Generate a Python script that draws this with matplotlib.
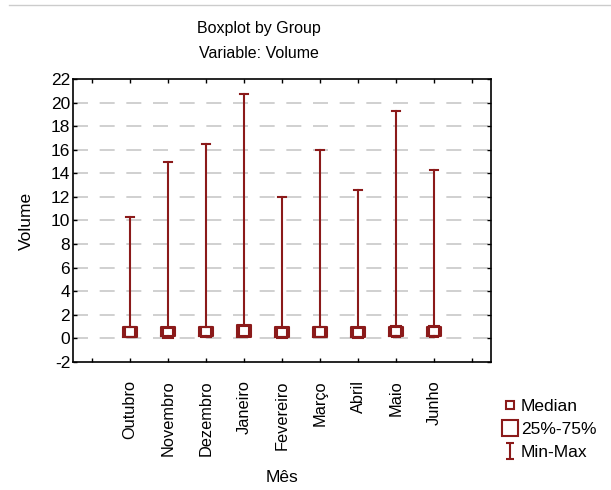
import matplotlib
matplotlib.use("Agg")
import matplotlib.pyplot as plt
from matplotlib.lines import Line2D
from matplotlib.path import Path

plt.rcParams['font.family'] = ['Liberation Sans', 'DejaVu Sans']
plt.rcParams['axes.unicode_minus'] = False

# ---------------------------
# Data
# ---------------------------
meses = ["Outubro", "Novembro", "Dezembro", "Janeiro", "Fevereiro",
         "Março", "Abril", "Maio", "Junho"]
mins = [0.1, 0.1, 0.1, 0.1, 0.1, 0.1, 0.1, 0.1, 0.1]
q1 = [0.15, 0.2, 0.2, 0.15, 0.1, 0.15, 0.15, 0.2, 0.2]
medians = [0.55, 0.5, 0.55, 0.6, 0.5, 0.55, 0.5, 0.6, 0.6]
q3 = [1.0, 0.95, 0.95, 1.1, 0.95, 1.0, 0.95, 1.0, 1.0]
maxs = [10.3, 15.0, 16.5, 20.7, 12.0, 16.0, 12.6, 19.3, 14.3]

red = "#8b1a1a"
positions = list(range(1, len(meses) + 1))

stats = []
for i in range(len(meses)):
    stats.append(dict(med=medians[i], q1=q1[i], q3=q3[i],
                      whislo=mins[i], whishi=maxs[i], fliers=[]))

# ---------------------------
# Plot
# ---------------------------
fig = plt.figure(figsize=(6.11, 4.90), dpi=100)
ax = fig.add_axes([0.1195, 0.2612, 0.6841, 0.5776])

ax.bxp(stats, positions=positions, widths=0.37, capwidths=0.22,
       showfliers=False,
       boxprops=dict(color=red, linewidth=1.5),
       whiskerprops=dict(color=red, linewidth=1.5),
       capprops=dict(color=red, linewidth=1.5),
       medianprops=dict(linestyle="none"))
ax.plot(positions, medians, "s", mfc="none", mec=red, mew=1.5, ms=7, zorder=4)

ax.set_xlim(-0.5, 10.5)
ax.set_ylim(-2, 22)
ax.set_yticks(range(-2, 23, 2))
ax.set_xticks(range(0, 11))
ax.set_xticklabels([""] + meses + [""], rotation=90)
ax.tick_params(axis="both", length=3, width=1, color="black")
ax.tick_params(axis="x", labelsize=11.8, top=True, direction="in", pad=13)
ax.tick_params(axis="y", labelsize=12.5, right=True, direction="in", pad=2)

for y in range(0, 21, 2):
    ax.axhline(y, color="#c8c8c8", linewidth=1.2, dashes=(9, 7), zorder=0)

for s in ax.spines.values():
    s.set_linewidth(1.2)

ax.set_ylabel("Volume", fontsize=12.5, labelpad=12)
ax.set_xlabel("Mês", fontsize=12.5, labelpad=10)

fig.text(258.5 / 611, 1 - 28 / 490, "Boxplot by Group", fontsize=11.5,
         ha="center", va="center")
fig.text(258.5 / 611, 1 - 53 / 490, "Variable: Volume", fontsize=11.5,
         ha="center", va="center")

# legend
i_shape = Path([(-0.5, 1), (0.5, 1), (0, 1), (0, -1), (-0.5, -1), (0.5, -1)],
               [Path.MOVETO, Path.LINETO, Path.MOVETO, Path.LINETO,
                Path.MOVETO, Path.LINETO])
h_med = Line2D([], [], marker="s", mfc="none", mec=red, mew=1.5, ms=6, ls="none")
h_box = Line2D([], [], marker="s", mfc="none", mec=red, mew=1.5, ms=12, ls="none")
h_mm = Line2D([], [], marker=i_shape, mfc="none", mec=red, mew=1.5, ms=11, ls="none")
fig.legend([h_med, h_box, h_mm], ["Median", "25%-75%", "Min-Max"],
           loc="lower left", bbox_to_anchor=(0.806, 0.04), frameon=False,
           fontsize=12.5, handlelength=0.8, handletextpad=0.25, labelspacing=0.45,
           borderpad=0.1)

# screenshot border line at the top
fig.add_artist(Line2D([0.015, 1.0], [0.99, 0.99], color="#cccccc", linewidth=1))

fig.savefig("out.png", dpi=100)
